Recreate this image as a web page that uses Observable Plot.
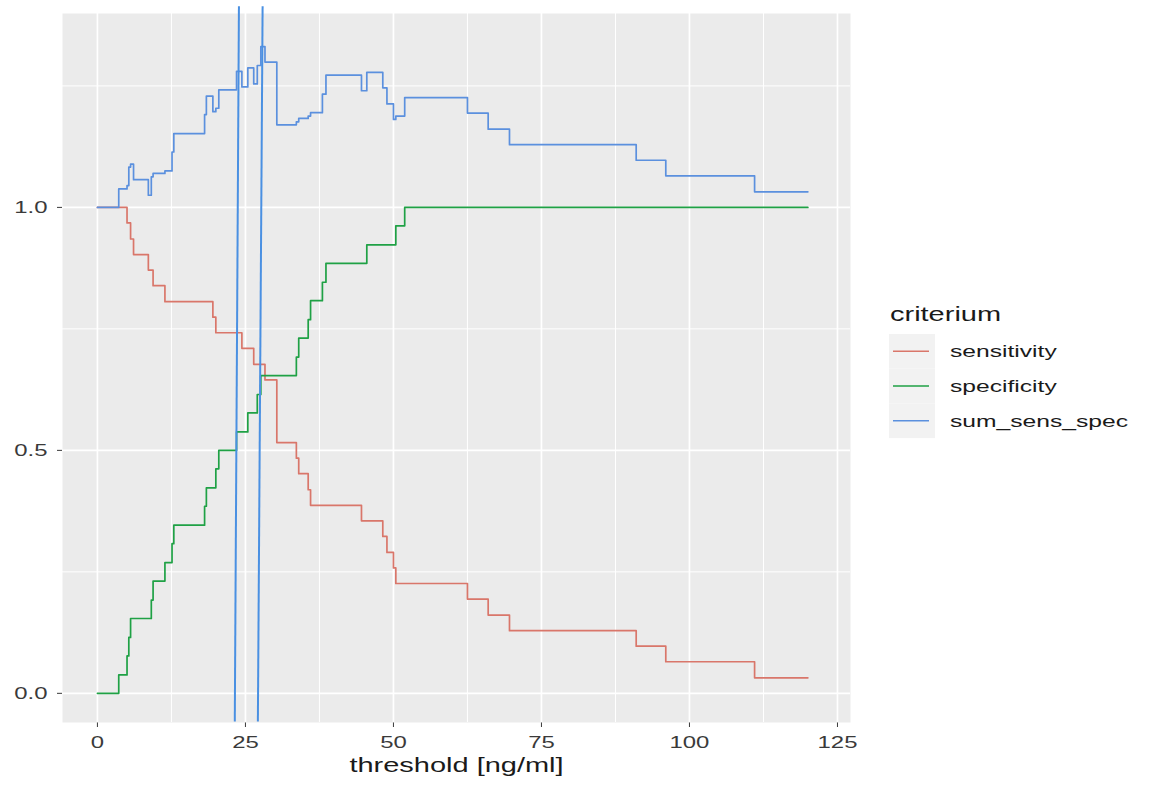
<!DOCTYPE html>
<html>
<head>
<meta charset="utf-8">
<script src="https://cdn.jsdelivr.net/npm/d3@7"></script>
<script src="https://cdn.jsdelivr.net/npm/@observablehq/plot@0.6"></script>
<style>
html, body { margin: 0; padding: 0; background: #ffffff; }
#wrap { position: relative; width: 1152px; height: 785px; overflow: hidden; font-family: "Liberation Sans", Arial, sans-serif; }
#chart { position: absolute; left: 0; top: 0; }
#legend { position: absolute; left: 0; top: 0; }
</style>
</head>
<body>
<div id="wrap">
  <div id="chart"></div>
  <svg id="legend" width="1152" height="785"></svg>
</div>
<script>
// ---- data ----
const threshold   = [0, 3.6, 5.0, 5.3, 5.6, 6.1, 8.6, 9.1, 9.4, 11.4, 12.6, 12.9, 18.1, 18.4, 19.5, 20.0, 20.5, 23.5, 24.4, 25.4, 26.4, 27.0, 27.6, 28.3, 30.3, 33.6, 34.0, 35.6, 36.0, 38.0, 38.6, 44.6, 45.5, 48.2, 48.9, 50.0, 50.4, 51.9, 62.5, 66.0, 69.6, 91.0, 96.0, 111.0, 120.0];
const sensitivity = [1.000, 1.000, 0.968, 0.968, 0.935, 0.903, 0.871, 0.871, 0.839, 0.806, 0.806, 0.806, 0.806, 0.806, 0.774, 0.742, 0.742, 0.742, 0.710, 0.710, 0.677, 0.677, 0.677, 0.645, 0.516, 0.484, 0.452, 0.419, 0.387, 0.387, 0.387, 0.355, 0.355, 0.323, 0.290, 0.258, 0.226, 0.226, 0.194, 0.161, 0.129, 0.097, 0.065, 0.032, 0.032];
const specificity = [0.000, 0.038, 0.077, 0.115, 0.154, 0.154, 0.154, 0.192, 0.231, 0.269, 0.308, 0.346, 0.385, 0.423, 0.423, 0.462, 0.500, 0.538, 0.538, 0.577, 0.577, 0.615, 0.654, 0.654, 0.654, 0.692, 0.731, 0.769, 0.808, 0.846, 0.885, 0.885, 0.923, 0.923, 0.923, 0.923, 0.962, 1.000, 1.000, 1.000, 1.000, 1.000, 1.000, 1.000, 1.000];
const sumSensSpec = [1.000, 1.038, 1.045, 1.083, 1.089, 1.057, 1.025, 1.063, 1.070, 1.075, 1.114, 1.152, 1.191, 1.229, 1.197, 1.204, 1.242, 1.280, 1.248, 1.287, 1.254, 1.292, 1.331, 1.299, 1.170, 1.176, 1.183, 1.188, 1.195, 1.233, 1.272, 1.240, 1.278, 1.246, 1.213, 1.181, 1.188, 1.226, 1.194, 1.161, 1.129, 1.097, 1.065, 1.032, 1.032];

const criteria = ["sensitivity", "specificity", "sum_sens_spec"];
const criteriaColors = ["#D9766A", "#1FA145", "#5B90DE"];

// hand-drawn vertical marker lines (threshold at bottom / at top)
const markerBottom = [23.2, 27.1];
const markerTop = [23.9, 27.9];

const xTicks = [0, 25, 50, 75, 100, 125];
const xMinor = [12.5, 37.5, 62.5, 87.5, 112.5];
const yTicks = [0, 0.5, 1.0];
const yMinor = [0.25, 0.75, 1.25];

// ---- build long table ----
const seriesValues = [sensitivity, specificity, sumSensSpec];
const rows = [];
criteria.forEach((c, s) => {
  threshold.forEach((t, i) => rows.push({threshold: t, criterium: c, value: seriesValues[s][i]}));
});
const markers = markerBottom.map((b, i) => ({bottom: b, top: markerTop[i]}));

const FONT = '"Liberation Sans", Arial, sans-serif';

const chart = Plot.plot({
  width: 870,
  height: 785,
  marginLeft: 62,
  marginRight: 20,
  marginTop: 13,
  marginBottom: 63,
  style: {fontFamily: FONT, fontSize: "16.5px", color: "#3A3A3A", background: "transparent", overflow: "visible"},
  x: {domain: [-5.9, 127.2], ticks: xTicks, tickSize: 5, tickPadding: 9, tickFormat: d => String(d), label: null},
  y: {domain: [-0.06, 1.399], ticks: yTicks, tickSize: 5, tickPadding: 10, tickFormat: d => d.toFixed(1), label: null},
  color: {domain: criteria, range: criteriaColors},
  marks: [
    Plot.frame({fill: "#EBEBEB", stroke: "none"}),
    Plot.ruleX(xMinor, {stroke: "#FFFFFF", strokeWidth: 1}),
    Plot.ruleY(yMinor, {stroke: "#FFFFFF", strokeWidth: 1}),
    Plot.ruleX(xTicks, {stroke: "#FFFFFF", strokeWidth: 1.7}),
    Plot.ruleY(yTicks, {stroke: "#FFFFFF", strokeWidth: 1.7}),
    Plot.line(rows, {x: "threshold", y: "value", z: "criterium", stroke: "criterium", curve: "step-after", strokeWidth: 1.7}),
    Plot.link(markers, {x1: "bottom", x2: "top", y1: () => -0.058, y2: () => 1.414, stroke: "#4A90E2", strokeWidth: 2}),
    Plot.text(["threshold [ng/ml]"], {frameAnchor: "bottom", dy: 49, fontSize: 20, fill: "#1A1A1A", text: d => d})
  ]
});
document.getElementById("chart").appendChild(chart);

// ---- legend ----
const lg = d3.select("#legend");
lg.append("text").attr("x", 890).attr("y", 321).attr("font-family", FONT).attr("font-size", 20).attr("fill", "#1A1A1A").text("criterium");
const keyTop = 334, keyH = 34.7;
criteria.forEach((c, i) => {
  const cy = keyTop + keyH * i + keyH / 2;
  lg.append("rect").attr("x", 889).attr("y", keyTop + keyH * i).attr("width", 46).attr("height", keyH).attr("fill", "#F2F2F2");
  lg.append("line").attr("x1", 893).attr("x2", 929).attr("y1", cy).attr("y2", cy).attr("stroke", criteriaColors[i]).attr("stroke-width", 1.5);
  lg.append("text").attr("x", 950).attr("y", cy).attr("dy", "0.35em").attr("font-family", FONT).attr("font-size", 17).attr("fill", "#1A1A1A").text(c);
});

// ---- horizontally widen glyphs like the reference rendering ----
function stretchText(root, sx) {
  root.querySelectorAll("text").forEach(t => {
    const g = document.createElementNS("http://www.w3.org/2000/svg", "g");
    t.parentNode.insertBefore(g, t);
    g.appendChild(t);
    const bb = g.getBBox();
    const anchor = getComputedStyle(t).textAnchor;
    let ax = bb.x;
    if (anchor === "middle") ax = bb.x + bb.width / 2;
    else if (anchor === "end") ax = bb.x + bb.width;
    g.setAttribute("transform", `translate(${ax},0) scale(${sx},1) translate(${-ax},0)`);
  });
}
stretchText(chart, 1.45);
stretchText(document.getElementById("legend"), 1.45);
</script>
</body>
</html>
